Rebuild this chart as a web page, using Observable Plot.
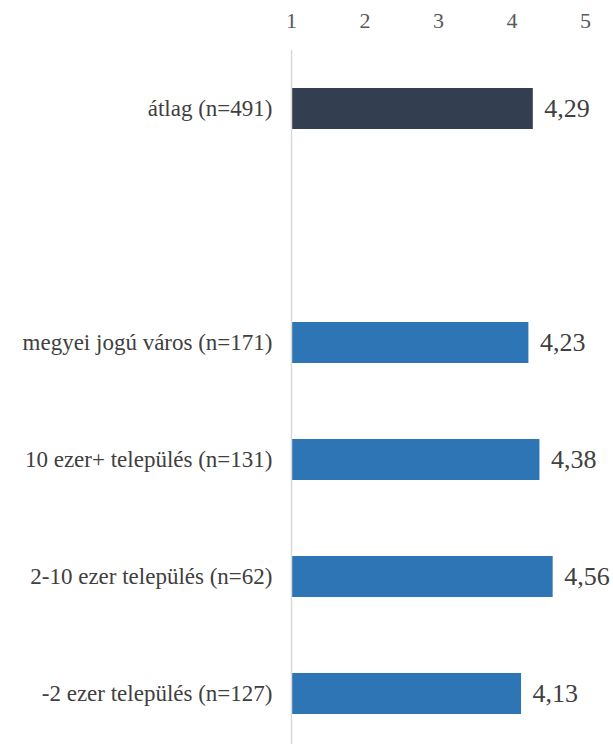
<!DOCTYPE html>
<html>
<head>
<meta charset="utf-8">
<script src="https://cdn.jsdelivr.net/npm/d3@7"></script>
<script src="https://cdn.jsdelivr.net/npm/@observablehq/plot@0.6"></script>
<style>
  html, body { margin: 0; padding: 0; background: #fff; }
  #chart svg { display: block; }
  #chart svg text { font-family: "Liberation Serif", "DejaVu Serif", serif !important; }
</style>
</head>
<body>
<div id="chart"></div>
<script>
const categories = [
  "átlag (n=491)",
  "megyei jogú város (n=171)",
  "10 ezer+ település (n=131)",
  "2-10 ezer település (n=62)",
  "-2 ezer település (n=127)"
];
const values = [4.29, 4.23, 4.38, 4.56, 4.13];
const groups = ["total", "type", "type", "type", "type"];
const xTicks = [1, 2, 3, 4, 5];
const gapLabel = " ";
const yDomain = [categories[0], gapLabel, ...categories.slice(1)];

const data = categories.map((c, i) => ({cat: c, value: values[i], group: groups[i]}));
const serif = "'Liberation Serif', 'DejaVu Serif', serif";

const chart = Plot.plot({
  width: 613,
  height: 745,
  marginTop: 50,
  marginBottom: 1,
  marginLeft: 291,
  marginRight: 28,
  style: {fontFamily: serif, background: "#fff"},
  x: {domain: [xTicks[0], xTicks[xTicks.length - 1]], axis: null, label: null},
  y: {domain: yDomain, paddingInner: 0.65, paddingOuter: 0.29, align: 0.56, axis: null, label: null},
  color: {domain: ["total", "type"], range: ["#333f50", "#2e75b6"]},
  marks: [
    Plot.axisX({anchor: "top", ticks: xTicks, tickSize: 0, tickPadding: 23, fontSize: 22, color: "#595959", label: null, tickFormat: d => String(d)}),
    Plot.axisY({anchor: "left", tickSize: 0, tickPadding: 19, fontSize: 23, color: "#404040", label: null}),
    Plot.barX(data, {x1: () => xTicks[0], x2: "value", y: "cat", fill: "group"}),
    Plot.ruleX([xTicks[0]], {stroke: "#d9d9d9", strokeWidth: 1.5}),
    Plot.text(data, {x: "value", y: "cat", text: d => d.value.toFixed(2).replace(".", ","), textAnchor: "start", dx: 11, fontSize: 26, fill: "#404040"})
  ]
});
document.getElementById("chart").appendChild(chart);
</script>
</body>
</html>
